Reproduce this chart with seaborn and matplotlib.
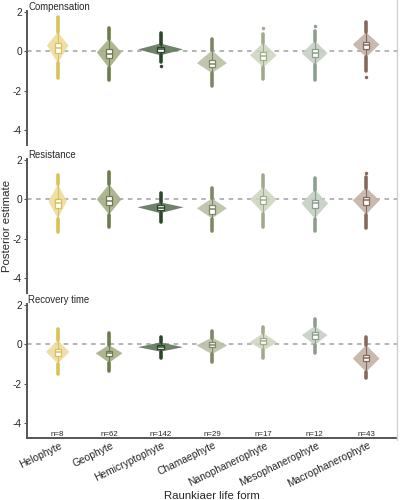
import seaborn as sns
import pandas as pd
import matplotlib.pyplot as plt
import matplotlib.transforms as mtransforms
from matplotlib.lines import Line2D

forms = ["Helophyte", "Geophyte", "Hemicryptophyte", "Chamaephyte",
         "Nanophanerophyte", "Mesophanerophyte", "Macrophanerophyte"]
n_species = [8, 62, 142, 29, 17, 12, 43]
panels = ["Compensation", "Resistance", "Recovery time"]

dot_colors = ["#d8c257", "#6e7b4a", "#2c452b", "#7e8866", "#a1ab8c", "#8d9e8c", "#86695a"]
fill_colors = ["#eddca0", "#a5ae85", "#5e7659", "#b9bfa5", "#d0d6c2", "#c5d0c3", "#c4b3a6"]

# values, one list per panel
tail_hi = [[1.77, 1.2, 0.95, 0.65, 0.9, 1.06, 1.47],
           [1.22, 1.38, 0.3, 0.6, 1.22, 1.07, 1.12],
           [0.78, 0.58, 0.38, 0.7, 0.9, 1.28, 0.38]]
viol_hi = [[0.98, 0.65, 0.4, 0.05, 0.45, 0.55, 0.97],
           [0.77, 0.77, -0.15, 0.05, 0.65, 0.5, 0.6],
           [0.22, -0.03, 0.1, 0.35, 0.57, 0.93, -0.03]]
viol_mode = [[0.3, -0.05, 0.1, -0.6, -0.2, -0.1, 0.35],
             [-0.1, 0.0, -0.4, -0.45, 0.0, -0.2, -0.05],
             [-0.38, -0.45, -0.14, -0.05, 0.1, 0.47, -0.72]]
viol_lo = [[-0.6, -0.85, -0.2, -1.1, -0.8, -0.7, -0.3],
           [-0.97, -0.77, -0.7, -0.97, -0.72, -0.97, -0.77],
           [-0.97, -0.93, -0.37, -0.5, -0.3, -0.03, -1.4]]
tail_lo = [[-1.37, -1.45, -0.55, -1.77, -1.42, -1.47, -0.97],
           [-1.63, -1.38, -1.17, -1.6, -1.4, -1.6, -1.43],
           [-1.52, -1.37, -0.7, -0.88, -0.7, -0.45, -1.72]]
q3 = [[0.42, 0.1, 0.22, -0.45, -0.05, 0.1, 0.5],
      [0.0, 0.15, -0.3, -0.27, 0.18, -0.05, 0.1],
      [-0.22, -0.34, -0.03, 0.1, 0.32, 0.64, -0.55]]
med = [[0.17, -0.15, 0.1, -0.62, -0.25, -0.1, 0.3],
       [-0.2, -0.1, -0.42, -0.47, -0.02, -0.2, -0.05],
       [-0.4, -0.46, -0.12, -0.03, 0.15, 0.47, -0.68]]
q1 = [[-0.1, -0.35, -0.03, -0.8, -0.45, -0.3, 0.1],
      [-0.45, -0.27, -0.55, -0.72, -0.22, -0.42, -0.27],
      [-0.6, -0.6, -0.22, -0.15, 0.0, 0.27, -0.85]]
half_width = [[0.21, 0.24, 0.44, 0.29, 0.26, 0.25, 0.26],
              [0.18, 0.24, 0.45, 0.29, 0.26, 0.26, 0.26],
              [0.23, 0.26, 0.44, 0.3, 0.27, 0.25, 0.26]]

out_panel = ["Compensation", "Compensation", "Compensation", "Compensation", "Resistance"]
out_form = ["Hemicryptophyte", "Nanophanerophyte", "Mesophanerophyte", "Macrophanerophyte", "Macrophanerophyte"]
out_value = [-0.75, 1.2, 1.27, -1.3, 1.32]
outliers = pd.DataFrame({"panel": out_panel, "form": out_form, "value": out_value})

sns.set_theme(style="ticks")
plt.rcParams["font.family"] = ["Liberation Sans", "DejaVu Sans"]

fig = plt.figure(figsize=(4.01, 5.0), dpi=100)
bottoms = [0.71, 0.414, 0.124]
axes = []
for p, name in enumerate(panels):
    ax = fig.add_axes([0.067, bottoms[p], 0.923, 0.268])
    axes.append(ax)

    sub = outliers[outliers["panel"] == name]
    if len(sub):
        sns.stripplot(data=sub, x="form", y="value", hue="form", order=forms,
                      hue_order=forms, palette=dot_colors, jitter=False,
                      size=2.5, legend=False, ax=ax, zorder=4)

    ax.axhline(0, color="#a0a0a0", lw=1.1, ls=(0, (3, 3)), zorder=1)

    for i in range(len(forms)):
        w = half_width[p][i]
        lo, mo, hi = viol_lo[p][i], viol_mode[p][i], viol_hi[p][i]
        ys = [lo, (lo + mo) / 2, mo, (mo + hi) / 2, hi]
        ws = [0, 0.5 * w, w, 0.5 * w, 0]
        xs = [i + v for v in ws] + [i - v for v in ws[::-1]]
        ax.fill(xs, ys + ys[::-1], color=fill_colors[i], alpha=0.9, lw=0, zorder=2)
        # posterior tails drawn as dots
        ax.vlines(i, hi, tail_hi[p][i], color=dot_colors[i], lw=2.6, capstyle="round", zorder=3)
        ax.vlines(i, tail_lo[p][i], lo, color=dot_colors[i], lw=2.6, capstyle="round", zorder=3)
        ax.vlines(i, lo, hi, color=dot_colors[i], lw=0.8, zorder=3)
        ax.bar(i, q3[p][i] - q1[p][i], bottom=q1[p][i], width=0.12, color="white",
               edgecolor=dot_colors[i], lw=0.9, zorder=5)
        ax.hlines(med[p][i], i - 0.06, i + 0.06, color=dot_colors[i], lw=1.1, zorder=6)

    ax.set_xlim(-0.6, 6.6)
    ax.set_ylim(-4.75, 2.05)
    ax.set_yticks([2, 0, -2, -4])
    ax.set_yticklabels(["2", "0", "-2", "-4"])
    ax.set_xticks(range(len(forms)))
    ax.set_xlabel("")
    ax.set_ylabel("")
    ax.tick_params(axis="y", labelsize=7.3, length=2.5, width=0.8, color="#555555", pad=1.0)
    ax.text(0.004, 1.03, name, transform=ax.transAxes, fontsize=6.9, va="center", ha="left")
    sns.despine(ax=ax)
    ax.spines["left"].set_color("#555555")
    ax.spines["left"].set_linewidth(1.4)
    if p < 2:
        ax.spines["bottom"].set_visible(False)
        ax.tick_params(axis="x", bottom=False, labelbottom=False)
    else:
        ax.spines["bottom"].set_color("#555555")
        ax.spines["bottom"].set_linewidth(1.4)
        ax.tick_params(axis="x", length=0, pad=5)
        ax.set_xticklabels(forms, rotation=26, ha="right", va="center",
                           rotation_mode="anchor", fontsize=7.4)
        shift = mtransforms.ScaledTranslation(4 / 100, 0, fig.dpi_scale_trans)
        for lab in ax.get_xticklabels():
            lab.set_transform(lab.get_transform() + shift)
        for i, n in enumerate(n_species):
            ax.text(i, -4.55, f"n={n}", ha="center", va="center", fontsize=5.7)
        ax.set_xlabel("Raunkiaer life form", fontsize=8.2, labelpad=1)

axes[1].set_ylabel("Posterior estimate", fontsize=8.2, va="center")
axes[1].yaxis.set_label_coords(-0.053, 0.5)
fig.add_artist(Line2D([0.99, 0.99], [0.12, 1.0], color="#d0d0d0", lw=1))

fig.savefig("out.png", dpi=100)
